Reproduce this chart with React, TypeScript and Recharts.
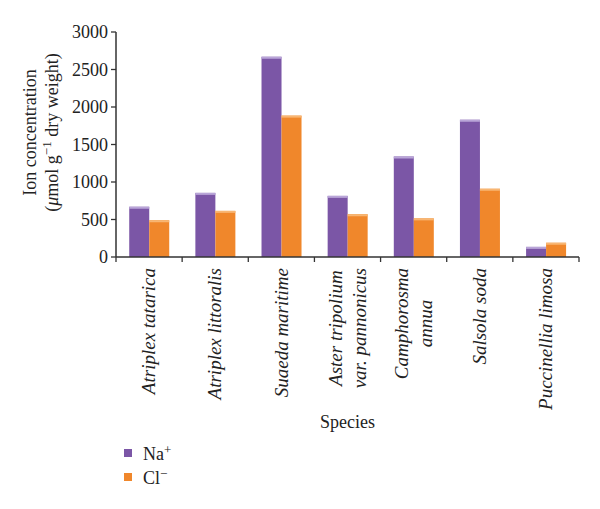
import React from 'react';
import { BarChart, Bar, XAxis, YAxis } from 'recharts';

const species = [
  'Atriplex tatarica',
  'Atriplex littoralis',
  'Suaeda maritime',
  'Aster tripolium\nvar. pannonicus',
  'Camphorosma\nannua',
  'Salsola soda',
  'Puccinellia limosa',
];
const naValues = [670, 855, 2670, 815, 1340, 1830, 135];
const clValues = [490, 615, 1885, 570, 515, 910, 190];
const yTicks = [0, 500, 1000, 1500, 2000, 2500, 3000];
const ionBase = ['Na', 'Cl'];
const ionCharge = ['+', '\u2212'];
const seriesKeys = ['na', 'cl'];
const colors = ['#7B56A6', '#F0872B'];
const topColors = ['#B9A5D8', '#F8B673'];

const data = species.map((s, i) => ({ species: s, na: naValues[i], cl: clValues[i] }));

const FONT = '"Liberation Serif", "Times New Roman", serif';
const AXIS = '#333333';
const FS = 18;

let ctx: CanvasRenderingContext2D | null = null;
function measure(t: string, font: string): number {
  if (!ctx) {
    const c = document.createElement('canvas');
    ctx = c.getContext('2d');
  }
  if (!ctx) return t.length * 7;
  ctx.font = font;
  return ctx.measureText(t).width;
}

const CategoryTick = (props: any) => {
  const { x, y, payload, index } = props;
  const half = payload && typeof payload.offset === 'number' && payload.offset > 0 ? payload.offset : 33;
  const axisY = y - 8;
  const lines = String(payload.value).split('\n');
  const fs = 19;
  const lh = 24;
  const gap = 3;
  const widths = lines.map((l) => measure(l, `italic ${fs}px "Liberation Serif"`));
  const maxW = Math.max(...widths);
  const multi = lines.length > 1;
  return (
    <g>
      <line x1={x - half} x2={x - half} y1={axisY} y2={axisY + 5} stroke={AXIS} strokeWidth={1.3} />
      {index === data.length - 1 && (
        <line x1={x + half} x2={x + half} y1={axisY} y2={axisY + 5} stroke={AXIS} strokeWidth={1.3} />
      )}
      <g transform={`translate(${x},${y + gap}) rotate(-90)`}>
        {lines.map((l, i) => (
          <text
            key={i}
            x={multi ? -maxW / 2 : 0}
            y={(i - (lines.length - 1) / 2) * lh + fs * 0.33}
            textAnchor={multi ? 'middle' : 'end'}
            fontStyle="italic"
            fontSize={fs}
            fontFamily={FONT}
            fill="#222"
          >
            {l}
          </text>
        ))}
      </g>
    </g>
  );
};

const YLabel = (props: any) => {
  const vb = props.viewBox || { x: 0, y: 32, width: 116, height: 225 };
  const cy = vb.y + vb.height / 2 - 12;
  return (
    <g transform={`translate(0, ${cy}) rotate(-90)`}>
      <text x={0} y={36} textAnchor="middle" fontSize={FS} fontFamily={FONT} fill="#222">
        Ion concentration
      </text>
      <text x={0} y={58} textAnchor="middle" fontSize={FS} fontFamily={FONT} fill="#222">
        (<tspan fontStyle="italic">μ</tspan>mol g
        <tspan dy={-7} fontSize={13}>−1</tspan>
        <tspan dy={7}> dry weight)</tspan>
      </text>
    </g>
  );
};

const XLabel = (props: any) => {
  const vb = props.viewBox || { x: 116, y: 257, width: 463, height: 252 };
  return (
    <text x={vb.x + vb.width / 2} y={vb.y + 171} textAnchor="middle" fontSize={FS} fontFamily={FONT} fill="#222">
      Species
    </text>
  );
};

const makeShape = (si: number) => (props: any) => {
  const { x, y, width, height } = props;
  if (!height || height <= 0) return <g />;
  return (
    <g>
      <rect x={x} y={y} width={width} height={height} fill={colors[si]} />
      <rect x={x} y={y} width={width} height={Math.min(2, height)} fill={topColors[si]} />
    </g>
  );
};

const LegendBlock = () => (
  <div style={{ position: 'absolute', left: 124, top: 441, fontFamily: FONT, fontSize: FS, color: '#222', lineHeight: 1 }}>
    {ionBase.map((b, i) => (
      <div key={b} style={{ display: 'flex', alignItems: 'center', height: 24 }}>
        <span style={{ display: 'inline-block', width: 8, height: 8, background: colors[i], marginRight: 11 }} />
        <span>
          {b}
          <sup style={{ fontSize: 13, verticalAlign: 6 }}>{ionCharge[i]}</sup>
        </span>
      </div>
    ))}
  </div>
);

export default function App() {
  return (
    <div style={{ position: 'absolute', left: 0, top: 0, width: 600, height: 509, background: '#fff' }}>
      <BarChart
        width={600}
        height={509}
        data={data}
        margin={{ top: 32, right: 21, left: 0, bottom: 0 }}
        barCategoryGap="20%"
        barGap={0}
      >
        <XAxis
          dataKey="species"
          height={252}
          interval={0}
          tickLine={false}
          tickSize={5}
          tickMargin={3}
          axisLine={{ stroke: AXIS, strokeWidth: 1.5 }}
          tick={<CategoryTick />}
          label={{ content: <XLabel /> }}
        />
        <XAxis xAxisId="top" dataKey="species" orientation="top" height={0} tick={false} tickLine={false} axisLine={{ stroke: AXIS, strokeWidth: 1.5 }} />
        <YAxis
          domain={[0, 3000]}
          ticks={yTicks}
          interval={0}
          width={116}
          tickSize={5}
          tickMargin={3}
          tickLine={{ stroke: AXIS, strokeWidth: 1.3 }}
          axisLine={{ stroke: AXIS, strokeWidth: 1.5 }}
          tick={{ fontSize: FS, fill: '#222', fontFamily: FONT }}
          label={{ content: <YLabel /> }}
        />
        <YAxis yAxisId="right" orientation="right" domain={[0, 3000]} width={0} tick={false} tickLine={false} axisLine={{ stroke: AXIS, strokeWidth: 1.5 }} />
        {seriesKeys.map((k, i) => (
          <Bar
            key={k}
            dataKey={k}
            name={ionBase[i] + ionCharge[i]}
            fill={colors[i]}
            isAnimationActive={false}
            shape={makeShape(i)}
          />
        ))}
      </BarChart>
      <LegendBlock />
    </div>
  );
}
